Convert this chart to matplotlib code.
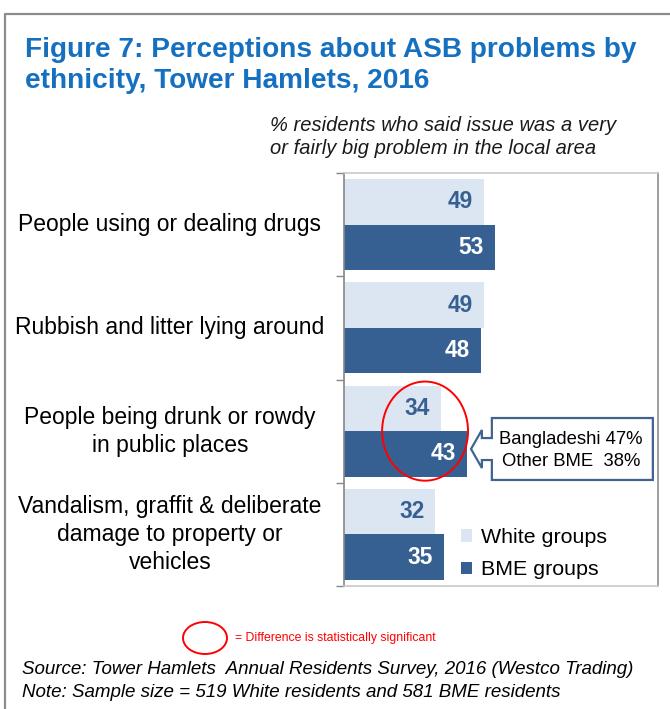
import matplotlib
matplotlib.use("Agg")
import matplotlib.pyplot as plt
from matplotlib.patches import Ellipse, Polygon
from matplotlib.lines import Line2D
from matplotlib.transforms import blended_transform_factory
from matplotlib import font_manager
import numpy as np

plt.rcParams['font.family'] = ['Liberation Sans', 'DejaVu Sans']
_names = {f.name for f in font_manager.fontManager.ttflist}
HAS_NARROW = 'Liberation Sans Narrow' in _names

# ---- data ----
categories = [
    "People using or dealing drugs",
    "Rubbish and litter lying around",
    "People being drunk or rowdy\nin public places",
    "Vandalism, graffit & deliberate\ndamage to property or\nvehicles",
]
white_groups = [49, 49, 34, 32]
bme_groups = [53, 48, 43, 35]
series_names = ["White groups", "BME groups"]
callout_text = "Bangladeshi 47%\nOther BME  38%"

W, H = 670, 709
def fx(px):
    return px / W
def fy(py):
    return 1 - py / H

fig = plt.figure(figsize=(W / 100, H / 100), dpi=100)
fig.patch.set_facecolor('white')

# outer border
fig.add_artist(Line2D([fx(5), fx(5), 1.0], [0, fy(14), fy(14)],
                      transform=fig.transFigure, color='#8c8c8c', lw=1.6))

title_color = '#1570C0'
fig.text(fx(25), fy(57), "Figure 7: Perceptions about ASB problems by",
         fontsize=20.2, fontweight='bold', color=title_color, va='baseline', ha='left')
fig.text(fx(25), fy(88), "ethnicity, Tower Hamlets, 2016",
         fontsize=20.2, fontweight='bold', color=title_color, va='baseline', ha='left')

fig.text(fx(270), fy(131), "% residents who said issue was a very",
         fontsize=14.5, fontstyle='italic', color='#1a1a1a', va='baseline', ha='left')
fig.text(fx(270), fy(154), "or fairly big problem in the local area",
         fontsize=14.5, fontstyle='italic', color='#1a1a1a', va='baseline', ha='left')

# axes
ax_left, ax_right, ax_top, ax_bottom = 344, 658, 173, 586
ax = fig.add_axes([fx(ax_left), fy(ax_bottom), fx(ax_right - ax_left), (ax_bottom - ax_top) / H])

y = np.arange(len(categories))
light = '#DCE6F2'
dark = '#376092'
bh = 0.44
ax.barh(y - bh / 2, white_groups, height=bh, color=light, label=series_names[0])
ax.barh(y + bh / 2, bme_groups, height=bh, color=dark, label=series_names[1])

ax.set_xlim(0, 110)
ax.set_ylim(len(categories) - 0.5, -0.5)

for yi, v in zip(y, white_groups):
    ax.annotate(str(v), (v, yi - bh / 2), xytext=(-8, 0), textcoords='offset points',
                ha='right', va='center', fontsize=16.3, fontweight='bold', color=dark)
for yi, v in zip(y, bme_groups):
    ax.annotate(str(v), (v, yi + bh / 2), xytext=(-8, 0), textcoords='offset points',
                ha='right', va='center', fontsize=16.3, fontweight='bold', color='white')

# spines and ticks
ax.set_xticks([])
ax.set_yticks([])
ax.set_yticks(np.arange(-0.5, len(categories)), minor=True)
ax.tick_params(axis='y', which='minor', length=6, color='#868686', width=1, direction='out')
ax.tick_params(axis='y', which='major', length=0)
ax.spines['left'].set_color('#868686')
ax.spines['top'].set_color('#c8c8c8')
ax.spines['bottom'].set_color('#c8c8c8')
ax.spines['right'].set_color('#8c8c8c')
for s in ax.spines.values():
    s.set_linewidth(1.2)

# category labels
trans = blended_transform_factory(fig.transFigure, ax.transData)
for yi, c in zip(y, categories):
    ax.text(fx(170), yi, c, transform=trans, ha='center', va='center',
            multialignment='center', fontsize=16.5, color='black', linespacing=1.27)

# significance ellipse
ax.add_patch(Ellipse((28.4, 2.0), 30.1, 0.96, fill=False, edgecolor='#FF0000', lw=1.4, zorder=5))

# callout
xt, xh, xb, xr = 44.5, 48.3, 51.8, 108.2
yt, yb = 1.873, 2.473
ytip, yht, yhb, yst, ysb = 2.173, 1.989, 2.357, 2.067, 2.280
poly = Polygon([(xr, yt), (xb, yt), (xb, yst), (xh, yst), (xh, yht), (xt, ytip),
                (xh, yhb), (xh, ysb), (xb, ysb), (xb, yb), (xr, yb)], closed=True,
               facecolor='white', edgecolor='#41648F', lw=1.6, zorder=4)
ax.add_patch(poly)
ax.text(79.5, 2.19, callout_text, ha='center', va='center', multialignment='center',
        fontsize=13.3, color='black', linespacing=1.35, zorder=6)

# legend
leg = ax.legend(loc='upper left', bbox_to_anchor=(fx(461), fy(528)),
                bbox_transform=fig.transFigure, frameon=False, fontsize=15.4,
                handlelength=0.5, handleheight=0.5, handletextpad=0.45,
                labelspacing=0.62, borderpad=0, borderaxespad=0)

# footer
fig.add_artist(Ellipse((fx(205), fy(638)), 44 / W, 32 / H, fill=False,
                       edgecolor='#FF0000', lw=1.4, transform=fig.transFigure))
if HAS_NARROW:
    fig.text(fx(235), fy(642), "= Difference is statistically significant",
             fontsize=10.4, color='#FF0000', va='baseline', ha='left',
             family=['Liberation Sans Narrow', 'Liberation Sans'])
else:
    fig.text(fx(235), fy(641), "= Difference is statistically significant",
             fontsize=8.8, color='#FF0000', va='baseline', ha='left')
fig.text(fx(22), fy(674), "Source: Tower Hamlets  Annual Residents Survey, 2016 (Westco Trading)",
         fontsize=13.5, fontstyle='italic', color='black', va='baseline', ha='left')
fig.text(fx(22), fy(697), "Note: Sample size = 519 White residents and 581 BME residents",
         fontsize=13.5, fontstyle='italic', color='black', va='baseline', ha='left')

fig.savefig("out.png", dpi=100, facecolor='white')
